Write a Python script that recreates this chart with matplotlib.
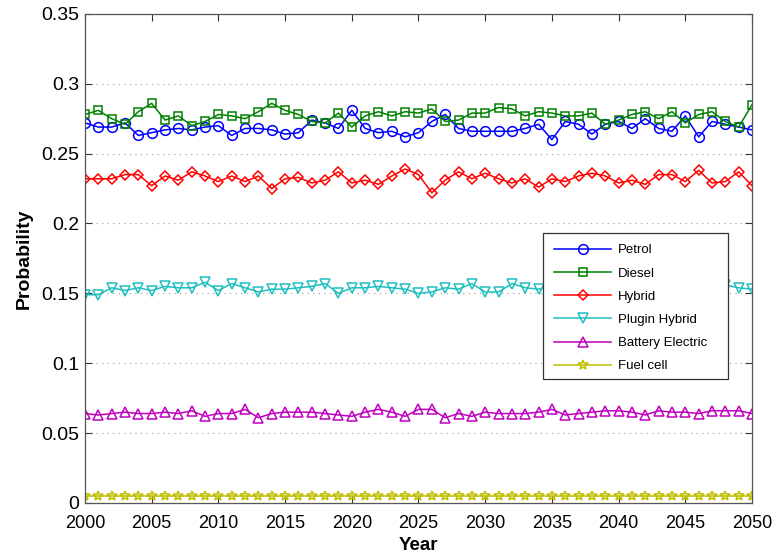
import numpy as np
import matplotlib
matplotlib.use("Agg")
import matplotlib.pyplot as plt
from matplotlib.patches import Rectangle

years = list(range(2000, 2051))

petrol = [0.272, 0.269, 0.269, 0.272, 0.263, 0.265, 0.267, 0.268, 0.267, 0.269,
          0.270, 0.263, 0.268, 0.268, 0.267, 0.264, 0.265, 0.274, 0.272, 0.268,
          0.281, 0.268, 0.265, 0.266, 0.262, 0.265, 0.273, 0.278, 0.268, 0.266,
          0.266, 0.266, 0.266, 0.268, 0.271, 0.260, 0.273, 0.271, 0.264, 0.271,
          0.273, 0.268, 0.275, 0.268, 0.266, 0.277, 0.262, 0.273, 0.271, 0.269,
          0.267]
diesel = [0.278, 0.281, 0.275, 0.271, 0.280, 0.286, 0.274, 0.277, 0.270, 0.273,
          0.278, 0.277, 0.275, 0.280, 0.286, 0.281, 0.278, 0.273, 0.272, 0.279,
          0.269, 0.277, 0.280, 0.277, 0.280, 0.279, 0.282, 0.273, 0.274, 0.279,
          0.279, 0.283, 0.282, 0.277, 0.280, 0.279, 0.277, 0.277, 0.279, 0.271,
          0.274, 0.278, 0.280, 0.275, 0.280, 0.272, 0.278, 0.280, 0.273, 0.269,
          0.285]
hybrid = [0.232, 0.232, 0.232, 0.235, 0.235, 0.227, 0.234, 0.231, 0.237, 0.234,
          0.230, 0.234, 0.230, 0.234, 0.225, 0.232, 0.233, 0.229, 0.231, 0.237,
          0.229, 0.231, 0.228, 0.234, 0.239, 0.235, 0.222, 0.231, 0.237, 0.232,
          0.236, 0.232, 0.229, 0.232, 0.226, 0.232, 0.230, 0.234, 0.236, 0.234,
          0.229, 0.231, 0.228, 0.235, 0.235, 0.230, 0.238, 0.229, 0.230, 0.237,
          0.227]
plugin = [0.149, 0.149, 0.154, 0.152, 0.154, 0.152, 0.155, 0.154, 0.154, 0.158,
          0.152, 0.157, 0.154, 0.151, 0.153, 0.153, 0.154, 0.155, 0.157, 0.150,
          0.154, 0.154, 0.155, 0.154, 0.153, 0.150, 0.151, 0.154, 0.153, 0.157,
          0.151, 0.151, 0.157, 0.154, 0.153, 0.155, 0.153, 0.155, 0.156, 0.154,
          0.155, 0.153, 0.156, 0.154, 0.155, 0.153, 0.155, 0.154, 0.156, 0.154,
          0.153]
battery = [0.064, 0.063, 0.064, 0.065, 0.064, 0.064, 0.065, 0.064, 0.066, 0.062,
           0.064, 0.064, 0.067, 0.061, 0.064, 0.065, 0.065, 0.065, 0.064, 0.063,
           0.062, 0.065, 0.067, 0.065, 0.062, 0.067, 0.067, 0.061, 0.064, 0.062,
           0.065, 0.064, 0.064, 0.064, 0.065, 0.067, 0.063, 0.064, 0.065, 0.066,
           0.066, 0.065, 0.063, 0.066, 0.065, 0.065, 0.064, 0.066, 0.066, 0.066,
           0.064]
fuelcell = [0.005] * 51

series = [
    ("Petrol", petrol, "#0000ff", "o", 7.0),
    ("Diesel", diesel, "#008000", "s", 5.6),
    ("Hybrid", hybrid, "#ff0000", "D", 5.6),
    ("Plugin Hybrid", plugin, "#1fbfbf", "v", 7.2),
    ("Battery Electric", battery, "#bf00bf", "^", 7.2),
    ("Fuel cell", fuelcell, "#bfbf00", "*", 7.0),
]

plt.rcParams['font.family'] = ['Liberation Sans', 'DejaVu Sans']

fig = plt.figure(figsize=(7.84, 5.55), dpi=100)
ax = fig.add_axes([0.1084, 0.0937, 0.8508, 0.8813])

for name, vals, col, mk, ms in series:
    ax.plot(years, vals, color=col, marker=mk, markersize=ms,
            markerfacecolor='none', markeredgecolor=col, markeredgewidth=1.1,
            linewidth=1.1, label=name, zorder=2)

ax.set_xlim(2000, 2050)
ax.set_ylim(0, 0.35)
ax.set_xticks(range(2000, 2051, 5))
yt = [0, 0.05, 0.1, 0.15, 0.2, 0.25, 0.3, 0.35]
ax.set_yticks(yt)
ax.set_yticklabels(["0", "0.05", "0.1", "0.15", "0.2", "0.25", "0.3", "0.35"])
ax.tick_params(direction='in', length=5, width=0.8, labelsize=13,
               top=True, right=True, colors='#333333', labelcolor='black')
ax.tick_params(axis='x', pad=9)
ax.tick_params(axis='y', labelsize=14, pad=4)
ax.yaxis.grid(True, linestyle=(0, (1, 4)), color='#999999', linewidth=0.8)
for s in ax.spines.values():
    s.set_color('#555555')
    s.set_linewidth(0.9)

ax.set_xlabel("Year", fontsize=13.5, fontweight='bold', labelpad=3)
ax.set_ylabel("Probability", fontsize=14, fontweight='bold', labelpad=6)

# legend box (MATLAB style, wider than its content)
box = Rectangle((0.6867, 0.2536), 0.2773, 0.2985, transform=ax.transAxes,
                facecolor='white', edgecolor='#333333', linewidth=0.9, zorder=3)
ax.add_patch(box)
leg = ax.legend(loc='upper left', bbox_to_anchor=(0.6867, 0.5521),
                fontsize=9.5, frameon=False, borderpad=0.85, labelspacing=0.83,
                handlelength=4.3, handletextpad=0.5, borderaxespad=0)
leg.set_zorder(4)

fig.savefig("out.png", dpi=100)
